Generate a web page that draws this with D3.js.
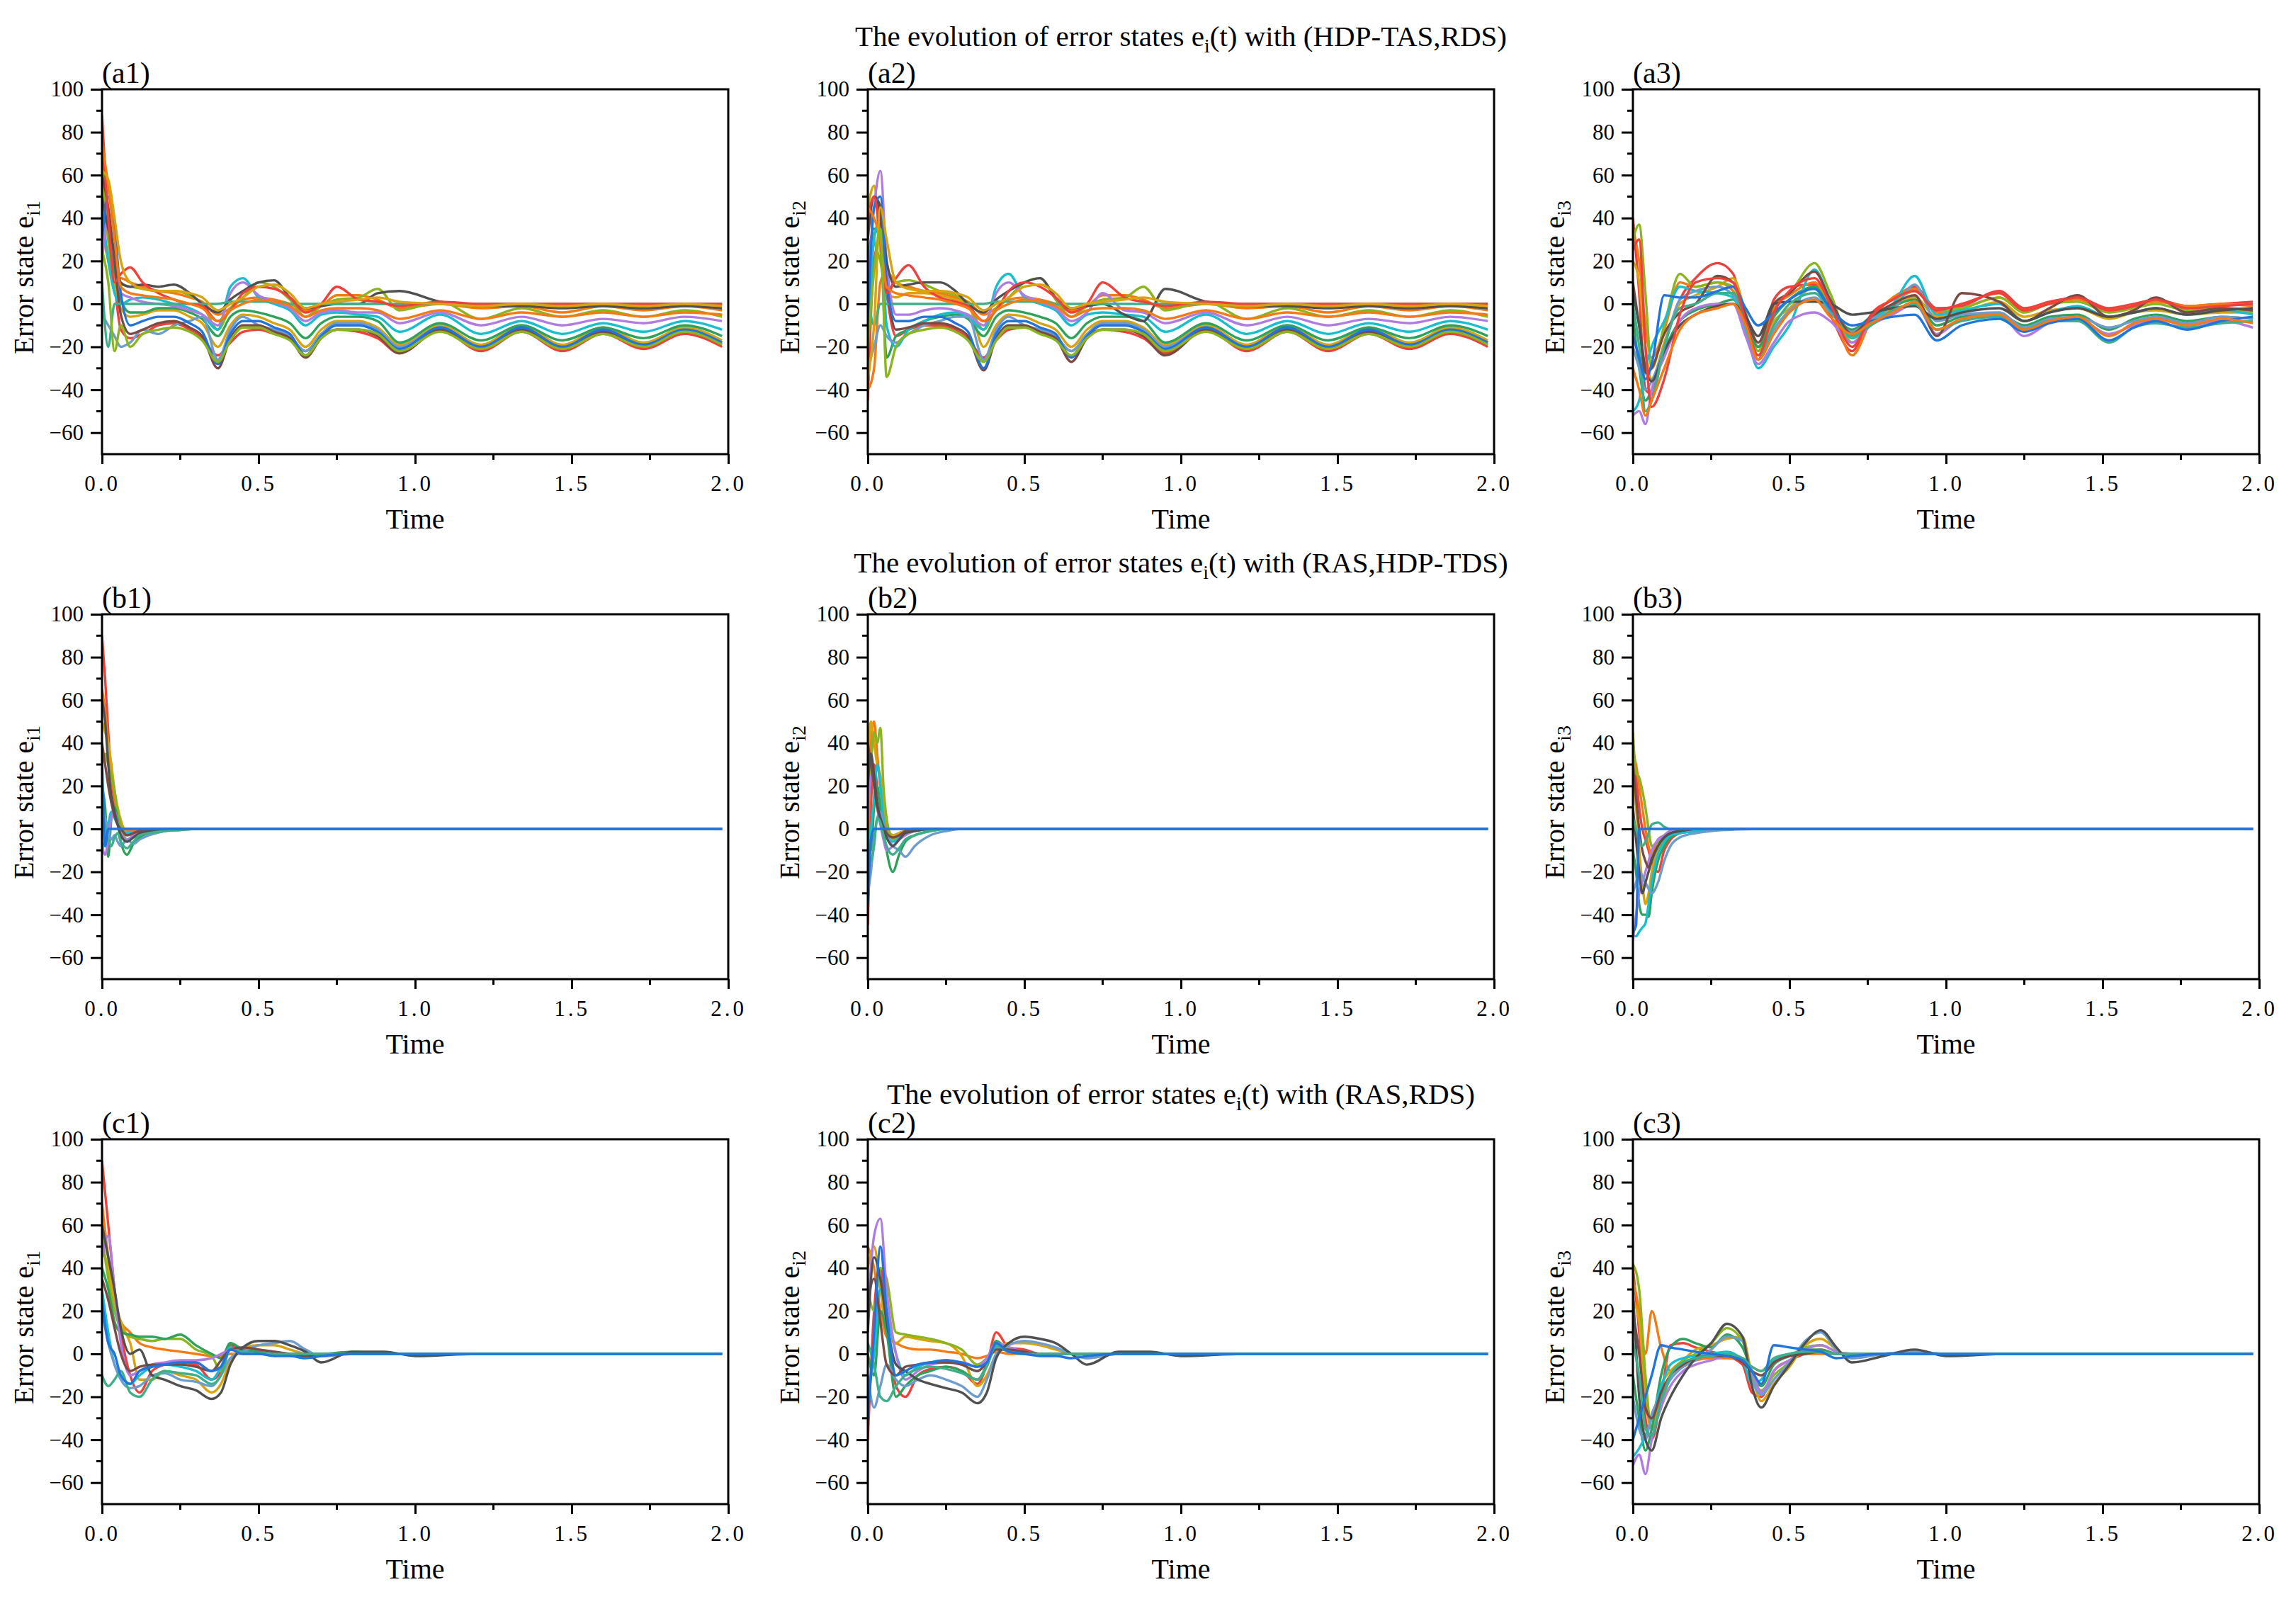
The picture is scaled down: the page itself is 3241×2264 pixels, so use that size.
<!DOCTYPE html>
<html>
<head>
<meta charset="utf-8">
<script src="https://cdn.jsdelivr.net/npm/d3@7"></script>
<style>
	body { margin: 0; background: #fff; }
	text { font-family: "Liberation Serif", "Times New Roman", serif; fill: #000; }
</style>
</head>
<body>
<script>
// time grids (s)
var tA = [0, 0.02, 0.04, 0.06, 0.09, 0.13, 0.18, 0.23, 0.28, 0.32, 0.37, 0.41, 0.45, 0.5, 0.55, 0.6, 0.65, 0.7, 0.75, 0.82, 0.88, 0.95, 1.08, 1.21, 1.34, 1.47, 1.6, 1.73, 1.86, 1.98];
var tA3 = [0, 0.02, 0.04, 0.06, 0.1, 0.15, 0.2, 0.27, 0.32, 0.36, 0.4, 0.45, 0.5, 0.58, 0.63, 0.7, 0.76, 0.83, 0.9, 0.97, 1.05, 1.17, 1.25, 1.33, 1.42, 1.52, 1.6, 1.67, 1.77, 1.88, 1.98];
var tB = [0, 0.01, 0.02, 0.03, 0.04, 0.05, 0.06, 0.08, 0.1, 0.12, 0.15, 0.2, 0.25, 0.3, 0.4, 1.98];
var tC = [0, 0.02, 0.04, 0.06, 0.09, 0.12, 0.16, 0.2, 0.25, 0.3, 0.35, 0.38, 0.41, 0.45, 0.5, 0.55, 0.6, 0.65, 0.7, 0.8, 0.9, 1.0, 1.2, 1.5, 1.98];

// series order: red, orange, gold, olive, green, cyan, purple, steel, brown, gray, teal, blue, then again
var a1 = [
	[70, 40, 10, -12, -16, -14, -10, -9, -12, -16, -24, -18, -13, -12, -14, -16, -22, -15, -12, -13, -16, -23, -12, -22, -13, -22, -14, -21, -14, -20],
	[35, 20, 10, 12, 10, 8, 6, 5, 3, 1, -5, -2, 2, 3, 2, 0, -3, -1, 4, 4, 2, -2, 0, -2, -1, -4, -1, -3, -1, -3],
	[55, 30, 10, -2, -6, -5, -3, -3, -6, -9, -20, -10, -5, -6, -9, -12, -20, -12, -8, -8, -11, -19, -10, -19, -10, -19, -11, -18, -11, -17],
	[65, 30, 8, 9, 8, 7, 6, 6, 4, 0, -12, -2, 3, 10, 8, 2, -6, -1, 2, 3, 7, -3, 1, -7, -2, -6, -3, -6, -3, -6],
	[40, 35, 15, 2, -4, -4, -2, -2, -4, -7, -15, -6, -3, -4, -6, -9, -16, -9, -6, -6, -8, -18, -9, -17, -10, -17, -11, -16, -10, -15],
	[45, 20, 5, 0, 2, 3, 2, 0, -2, -5, -12, 8, 12, 3, 0, -3, -10, -5, -4, -5, -6, -13, -5, -14, -8, -14, -9, -13, -8, -12],
	[20, 40, 20, 5, 3, 1, 0, -1, -3, -5, -10, 5, 10, 4, 1, -2, -8, -4, -3, -4, -4, -9, -4, -10, -6, -10, -7, -9, -6, -8],
	[-5, -10, -15, -20, -18, -12, -14, -10, -8, -6, -26, -12, -6, -10, -12, -15, -22, -14, -9, -9, -12, -20, -11, -20, -12, -20, -13, -19, -13, -18],
	[60, 45, 20, -5, -14, -12, -9, -8, -11, -15, -30, -16, -10, -10, -13, -16, -25, -16, -12, -12, -15, -23, -12, -21, -12, -21, -13, -20, -13, -19],
	[50, 35, 25, 10, 8, 9, 8, 9, 5, 0, -4, 2, 6, 10, 11, 3, -2, -1, 0, 0, 5, 6, 1, -1, -1, -2, -1, -2, -1, -2],
	[10, -20, 0, 0, 0, 0, 0, 0, 0, 0, 0, 1, 1, 1, 1, 0, 0, 0, 0, 0, 0, 0, 0, 0, 0, 0, 0, 0, 0, 0],
	[30, 50, 35, 5, -10, -8, -6, -6, -9, -13, -28, -14, -8, -8, -11, -14, -24, -15, -10, -10, -13, -21, -11, -20, -11, -20, -12, -19, -12, -18],
	[88, 40, 10, 14, 17, 10, 5, 2, 0, -1, -8, -3, 5, 8, 7, 3, -4, 0, 8, 2, 1, -1, 1, 0, 0, 0, 0, 0, 0, 0],
	[75, 55, 30, 8, 5, 4, 3, 2, 0, -2, -8, -3, 0, 2, 1, -1, -6, -3, -2, -2, -3, -7, -3, -7, -4, -6, -4, -6, -4, -5],
	[62, 58, 40, 20, 10, 7, 6, 6, 5, 3, -3, 0, 3, 8, 9, 5, -2, 0, 1, 2, 3, 1, 0, -1, 0, -1, 0, -1, 0, -1],
	[25, 10, -22, -10, -20, -14, -12, -11, -13, -17, -27, -17, -11, -11, -14, -17, -24, -16, -12, -12, -14, -22, -13, -21, -13, -21, -14, -20, -13, -19]
];
var a2 = [
	[-45, 20, 30, 5, -15, -12, -10, -10, -12, -16, -25, -17, -12, -11, -13, -16, -22, -15, -12, -13, -16, -23, -12, -22, -13, -22, -14, -21, -14, -20],
	[-40, -30, 10, 15, 10, 8, 6, 5, 3, 1, -5, -2, 2, 3, 2, 0, -3, -1, 4, 4, 2, -2, 0, -2, -1, -4, -1, -3, -1, -3],
	[45, 55, 25, 5, 3, 5, 5, 4, 2, 0, -20, -10, -5, -6, -9, -12, -20, -12, -8, -8, -11, -19, -10, -19, -10, -19, -11, -18, -11, -17],
	[50, 30, 20, 5, 10, 11, 9, 6, 4, 0, -12, -2, 3, 10, 12, 2, -6, -1, 2, 3, 8, -3, 1, -7, -2, -6, -3, -6, -3, -6],
	[20, 35, 30, -25, -15, -12, -8, -6, -5, -7, -15, -6, -3, -4, -6, -9, -16, -9, -6, -6, -8, -18, -9, -17, -10, -17, -11, -16, -10, -15],
	[-20, 30, 40, -10, -20, -12, -8, -5, -4, -6, -12, 8, 14, 3, 0, -3, -10, -5, -4, -5, -6, -13, -5, -14, -8, -14, -9, -13, -8, -12],
	[10, 45, 62, 20, -5, -5, -3, -2, -3, -5, -10, 5, 10, 4, 1, -2, -8, -4, 5, -3, -4, -9, -4, -10, -6, -10, -7, -9, -6, -8],
	[-30, -20, -10, -15, -18, -14, -10, -8, -6, -6, -26, -12, -6, -10, -12, -15, -22, -14, -9, -9, -12, -20, -11, -20, -12, -20, -13, -19, -13, -18],
	[30, 50, 40, 10, -12, -11, -9, -9, -11, -15, -31, -16, -10, -10, -13, -16, -27, -16, -12, -12, -15, -24, -12, -21, -12, -21, -13, -20, -13, -19],
	[35, 50, 45, 20, 8, 9, 10, 10, 6, 0, -4, 2, 6, 10, 12, 3, -2, -1, 0, -5, -8, 7, 1, -1, -1, -2, -1, -2, -1, -2],
	[5, -10, 0, 0, 0, 0, 0, 0, 0, 0, 0, 1, 1, 1, 1, 0, 0, 0, 0, 0, 0, 0, 0, 0, 0, 0, 0, 0, 0, 0],
	[-10, 45, 50, 10, -8, -8, -6, -6, -9, -13, -30, -14, -8, -8, -11, -14, -25, -15, -10, -10, -13, -21, -11, -20, -11, -20, -12, -19, -12, -18],
	[40, 50, 30, 5, 12, 18, 8, 3, 1, -1, -8, -3, 6, 10, 8, 3, -4, 0, 10, 3, 1, -1, 1, 0, 0, 0, 0, 0, 0, 0],
	[45, 40, 30, 8, 5, 4, 3, 2, 0, -2, -8, -3, 0, 2, 1, -1, -6, -3, -2, -2, -3, -7, -3, -7, -4, -6, -4, -6, -4, -5],
	[-35, -10, 45, 30, 10, 7, 6, 6, 5, 3, -3, 0, 3, 8, 9, 5, -2, 0, 1, 2, 3, 1, 0, -1, 0, -1, 0, -1, 0, -1],
	[-20, 15, 35, -34, -20, -14, -12, -11, -13, -17, -27, -17, -11, -11, -14, -17, -24, -16, -12, -12, -14, -22, -13, -21, -13, -21, -14, -20, -13, -19]
];
var a3 = [
	[40, 5, -40, -42, -20, 2, 12, 19, 14, -10, -26, 2, 8, 9, -5, -22, -5, 2, 8, -2, -1, 6, -2, 1, 3, -2, 0, 2, -1, 0, 1],
	[35, 20, -10, -25, -12, 10, 8, 10, 6, -6, -20, -2, 4, 10, 0, -24, -8, 3, 7, -4, -2, 3, -3, 0, 2, -3, -1, 1, -1, 0, -1],
	[20, 10, -20, -35, -18, 0, 4, 8, 12, -4, -20, -8, -2, 8, 0, -16, -9, -2, 3, -6, -4, 1, -6, -3, -2, -7, -4, -3, -5, -4, -4],
	[30, 37, 5, -30, -10, 14, 8, 10, 8, -5, -22, 0, 5, 19, 5, -18, -8, 0, 6, -3, -2, 3, -4, 0, 1, -4, -2, 0, -3, -2, -4],
	[-5, -30, -45, -40, -22, -8, -3, 0, 2, -8, -20, -6, 2, 8, -2, -12, -6, -1, 2, -10, -6, -5, -10, -6, -5, -12, -7, -5, -8, -6, -7],
	[-50, -45, -30, -20, -8, 8, 6, 5, 3, -12, -30, -20, -10, 16, 2, -16, -8, 0, 13, -5, -3, 0, -8, -4, -1, -6, -4, -2, -5, -3, -5],
	[-52, -50, -56, -40, -25, -8, -2, 0, 0, -15, -28, -18, -8, -4, -8, -18, -10, -5, 0, -14, -7, -5, -15, -9, -7, -14, -10, -7, -10, -8, -11],
	[-20, -30, -40, -36, -20, 2, 6, 8, 4, -8, -26, -12, -3, 3, -4, -13, -7, -3, 9, -8, -5, -4, -11, -7, -6, -11, -8, -6, -9, -6, -7],
	[10, -10, -32, -30, -14, -4, 0, 13, 10, -5, -18, 0, 5, 15, 2, -14, -6, 0, 4, -15, 5, 1, -8, -2, 4, -6, -3, 3, -4, -2, -3],
	[5, -10, -30, -36, -22, -10, -5, -1, 0, -6, -15, 0, 1, 1, 0, -5, -4, -2, -1, -7, -4, -2, -8, -4, -2, -6, -4, -2, -5, -3, -2],
	[0, -20, -50, -45, -20, -2, 0, 5, 5, -8, -24, -10, 0, 5, -3, -15, -10, -3, 0, -12, -8, -6, -12, -8, -8, -18, -11, -9, -11, -9, -8],
	[-15, -25, -35, -28, 4, 3, 3, 6, 8, -2, -10, -4, 2, 7, -2, -10, -8, -6, -5, -17, -10, -7, -13, -9, -7, -17, -11, -8, -12, -8, -6],
	[25, 30, -20, -48, -35, -5, 10, 12, 10, -8, -24, -4, 6, 12, 0, -20, -6, 2, 6, -3, 0, 5, -3, 0, 3, -3, -1, 2, -2, -1, 0],
	[-30, -40, -52, -45, -30, -12, -5, -2, 0, -10, -26, -14, -4, 2, -6, -14, -9, -4, 1, -12, -7, -5, -12, -8, -6, -15, -9, -7, -10, -7, -9]
];
var b1 = [
	[90, 70, 45, 25, 12, 5, 1, 0, 0, 0, 0, 0, 0, 0, 0, 0],
	[65, 55, 40, 25, 15, 6, 2, -1, -1, 0, 0, 0, 0, 0, 0, 0],
	[50, 45, 40, 30, 18, 10, 4, -2, -3, -2, -1, 0, 0, 0, 0, 0],
	[30, 35, 30, 25, 18, 8, 2, -5, -4, -3, -2, -1, 0, 0, 0, 0],
	[20, 10, -13, 5, 10, 4, -6, -12, -7, -4, -2, -1, -0.5, 0, 0, 0],
	[-10, -5, 2, 8, 5, 2, 0, -2, -2, -1, -1, 0, 0, 0, 0, 0],
	[-8, -12, -5, 5, 8, 3, -2, -5, -3, -2, -1, 0, 0, 0, 0, 0],
	[10, 5, 0, -5, -3, -6, -8, -5, -7, -5, -3, -1, 0, 0, 0, 0],
	[40, 30, 20, 12, 6, 2, 0, -3, -2, -1, 0, 0, 0, 0, 0, 0],
	[60, 50, 30, 15, 8, 2, -3, -6, -4, -2, -1, 0, 0, 0, 0, 0],
	[5, 0, -5, -8, -4, -2, -6, -9, -6, -3, -2, -1, -0.5, 0, 0, 0],
	[35, -8, 0, 0, 0, 0, 0, 0, 0, 0, 0, 0, 0, 0, 0, 0]
];
var b2 = [
	[-45, 10, 30, 20, 10, 3, 0, -3, -2, -1, 0, 0, 0, 0, 0, 0],
	[-20, 40, 50, 35, 20, 8, 2, -4, -3, -1, 0, 0, 0, 0, 0, 0],
	[30, 50, 40, 30, 25, 12, 3, -3, -2, -1, 0, 0, 0, 0, 0, 0],
	[10, 30, 45, 40, 47, 20, 5, -5, -4, -2, -1, 0, 0, 0, 0, 0],
	[0, -10, 10, 20, 10, 0, -10, -20, -12, -6, -3, -1, 0, 0, 0, 0],
	[-10, 0, 15, 30, 20, 5, -2, -6, -4, -2, -1, 0, 0, 0, 0, 0],
	[5, 25, 20, 10, 2, -5, -10, -8, -5, -3, -1, 0, 0, 0, 0, 0],
	[-30, -20, -5, 5, 8, 2, -3, -8, -10, -13, -8, -3, -1, 0, 0, 0],
	[40, 30, 20, 10, 5, 1, -2, -4, -3, -1, 0, 0, 0, 0, 0, 0],
	[20, 35, 25, 12, 5, 0, -4, -8, -5, -2, -1, 0, 0, 0, 0, 0],
	[-5, -15, -8, 5, 3, -3, -8, -12, -9, -5, -3, -1, 0, 0, 0, 0],
	[-35, -5, 0, 0, 0, 0, 0, 0, 0, 0, 0, 0, 0, 0, 0, 0]
];
var b3 = [
	[40, 25, 10, 0, -5, -10, -15, -20, -10, -5, -2, -1, 0, 0, 0, 0],
	[35, 30, 20, 10, 0, -8, -12, -5, -3, -1, 0, 0, 0, 0, 0, 0],
	[20, 10, -10, -25, -35, -30, -20, -10, -5, -3, -1, 0, 0, 0, 0, 0],
	[45, 26, 24, 18, 10, 0, -8, -6, -3, -1, -1, 0, 0, 0, 0, 0],
	[-10, -20, -35, -40, -40, -41, -30, -15, -8, -4, -2, -1, 0, 0, 0, 0],
	[-50, -50, -48, -46, -44, -35, -25, -12, -6, -3, -2, -1, 0, 0, 0, 0],
	[-52, -40, -30, -25, -20, -15, -10, -5, -3, -1, 0, 0, 0, 0, 0, 0],
	[-30, -25, -20, -22, -25, -28, -30, -25, -15, -8, -4, -2, -1, -0.5, 0, 0],
	[30, 15, 0, -10, -15, -18, -14, -8, -4, -2, -1, 0, 0, 0, 0, 0],
	[10, -5, -20, -30, -25, -20, -15, -8, -4, -2, -1, 0, 0, 0, 0, 0],
	[5, 0, -5, -8, -6, -2, 2, 3, 1, 0, 0, 0, 0, 0, 0, 0],
	[-48, -45, 0, 0, 0, 0, 0, 0, 0, 0, 0, 0, 0, 0, 0, 0]
];
var c1 = [
	[90, 60, 30, 10, -10, -18, -8, -5, -4, -5, -12, -8, 4, 2, 1, 0, 0, 0, 0, 0, 0, 0, 0, 0, 0],
	[70, 45, 25, 15, 10, 5, 3, 2, 1, 0, -1, -1, 0, 0, 0, 0, 0, 0, 0, 0, 0, 0, 0, 0, 0],
	[50, 40, 25, 15, 5, -12, -12, -8, -10, -12, -18, -14, -3, 3, 4, 4, 2, 0, -1, 0, 0, 0, 0, 0, 0],
	[55, 35, 20, 12, 8, 7, 6, 7, 7, 2, -1, -8, 2, 1, 0, 0, 0, 0, 0, 0, 0, 0, 0, 0, 0],
	[40, 30, 15, 10, 9, 8, 8, 7, 9, 4, 0, -2, 5, 2, 1, 0, 0, 0, 0, 1, 0, 0, 0, 0, 0],
	[30, 10, -5, -10, -14, -10, -6, -5, -6, -8, -12, -6, 3, 1, 0, 0, 0, 0, 0, 0, 0, 0, 0, 0, 0],
	[45, 55, 30, 5, -10, -8, -5, -4, -3, -3, -2, 0, 2, 3, 2, 1, 0, 0, 0, 0, 0, 0, 0, 0, 0],
	[20, 5, -5, -12, -16, -15, -10, -9, -12, -13, -15, -10, -2, 1, 4, 5, 6, 2, -1, 0, 0, 0, 0, 0, 0],
	[35, 25, 12, 0, -8, -6, -5, -5, -5, -6, -8, -3, 2, 3, 2, 1, 0, -1, 0, 0, 0, 0, 0, 0, 0],
	[60, 45, 30, 12, 0, 2, -10, -12, -15, -17, -21, -18, -5, 3, 6, 6, 4, 1, -4, 1, 1, -1, 0, 0, 0],
	[-10, -15, -12, -8, -18, -20, -12, -8, -9, -10, -14, -10, 2, 1, 0, 0, 0, 0, 0, 0, 0, 0, 0, 0, 0],
	[25, 5, 0, -10, -14, -8, -6, -5, -4, -4, -8, -6, 2, 0, 0, -1, -1, -2, -1, 0, 0, 0, 0, 0, 0]
];
var c2 = [
	[-40, 20, 40, 15, -15, -20, -10, -7, -6, -8, -14, -5, 10, 3, 2, 0, 0, 0, 0, 0, 0, 0, 0, 0, 0],
	[50, 40, 20, 8, 5, 3, 2, 2, 1, 0, -2, -1, 1, 0, 0, 0, 0, 0, 0, 0, 0, 0, 0, 0, 0],
	[40, 50, 30, 10, 5, 8, 7, 6, 5, -1, -15, -10, 0, 5, 5, 4, 2, 0, -2, 0, 0, 0, 0, 0, 0],
	[30, 20, 40, 35, 10, 9, 8, 7, 5, 2, -5, -2, 4, 2, 1, 0, 0, 0, 0, 0, 0, 0, 0, 0, 0],
	[0, -10, 20, 10, -20, -15, -10, -8, -6, -8, -12, -5, 6, 2, 1, 0, 0, 0, 0, 0, 0, 0, 0, 0, 0],
	[-20, 0, 30, 20, 0, -10, -6, -4, -3, -5, -8, -4, 3, 1, 0, 0, 0, 0, 0, 0, 0, 0, 0, 0, 0],
	[20, 55, 63, 30, 0, -12, -8, -5, -4, -4, -6, -2, 5, 3, 1, 0, 0, 0, 0, 0, 0, 0, 0, 0, 0],
	[-10, -25, -15, -5, -12, -15, -12, -10, -12, -15, -20, -12, 0, 4, 6, 5, 3, 0, -2, 0, 0, 0, 0, 0, 0],
	[25, 35, 15, -5, -10, -6, -5, -4, -4, -5, -8, -4, 2, 2, 1, 0, 0, 0, 0, 0, 0, 0, 0, 0, 0],
	[10, 45, 35, 15, -5, -8, -12, -14, -16, -18, -23, -18, -2, 5, 8, 7, 5, 0, -5, 1, 1, -1, 0, 0, 0],
	[5, -5, -20, -22, -15, -10, -7, -6, -7, -9, -12, -6, 4, 1, 0, 0, 0, 0, 0, 0, 0, 0, 0, 0, 0],
	[-30, 10, 50, 20, -10, -8, -5, -4, -3, -4, -6, -4, 5, 1, 0, -1, -1, -2, -1, 0, 0, 0, 0, 0, 0]
];
var c3 = [
	[40, 10, -30, -40, -20, 4, 5, 3, 1, -1, -5, -18, -20, -8, -3, 0, 2, 0, 0, 0, 0, 0, 0, 0, 0],
	[35, 20, 0, 20, 3, -8, -6, -3, -2, -2, -3, -6, -8, -3, -1, 0, 0, 0, 0, 0, 0, 0, 0, 0, 0],
	[25, 15, -20, -35, -15, -8, -3, 2, 4, 7, 8, -10, -22, -14, -6, 4, 7, 2, -2, 0, 0, 0, 0, 0, 0],
	[42, 30, -10, -35, -25, -10, -3, 0, 5, 12, 6, -10, -17, -10, -4, 3, 4, 1, -1, 0, 1, 0, 0, 0, 0],
	[-10, -30, -45, -35, -10, 3, 7, 5, 3, 9, 3, -8, -15, -5, -1, 2, 2, 0, 0, 0, 0, 0, 0, 0, 0],
	[-48, -44, -38, -30, -15, -5, -2, -1, 0, 1, -3, -14, -12, -3, 0, 1, 1, 0, 0, 0, 0, 0, 0, 0, 0],
	[-52, -47, -56, -40, -25, -15, -8, -5, -3, -1, -2, -8, -18, -8, -3, 2, 4, 1, 0, 0, 0, 0, 0, 0, 0],
	[-20, -35, -40, -28, -20, -12, -6, -3, 2, 8, 6, -12, -19, -12, -4, 6, 10, 2, -2, 0, 1, 0, 0, 0, 0],
	[20, 0, -25, -30, -18, -10, -5, -2, -1, -1, -4, -8, -10, -4, -1, 0, 1, 0, 0, 0, 0, 0, 0, 0, 0],
	[30, -20, -40, -45, -30, -20, -10, -2, 5, 14, 8, -15, -25, -15, -5, 5, 11, 3, -4, -1, 2, -1, 0, 0, 0],
	[5, -10, -35, -38, -22, -10, -4, -2, -1, 0, -2, -6, -8, -2, 0, 1, 1, 0, 0, 0, 0, 0, 0, 0, 0],
	[-40, -30, -20, -10, 4, 3, 2, 1, 0, -1, -3, -8, -14, 4, 3, 2, 1, -2, -1, 0, 0, 0, 0, 0, 0]
];

var rowTitles = ["(HDP-TAS,RDS)", "(RAS,HDP-TDS)", "(RAS,RDS)"];
var panelLetters = ["a", "b", "c"];
var yTicks = [-60, -40, -20, 0, 20, 40, 60, 80, 100];
var yMinor = [-50, -30, -10, 10, 30, 50, 70, 90];
var xTicks = [0, 0.5, 1.0, 1.5, 2.0];
var xMinor = [0.25, 0.75, 1.25, 1.75];

var palette = ["#f0403c", "#f57a14", "#d9a30e", "#8ab51f", "#2ca25a", "#17becf",
	"#b07ce3", "#6d9ccf", "#7b4a45", "#505050", "#3cb08a", "#1f74e0"];

var panels = [
	[{ t: tA, s: a1 }, { t: tA, s: a2 }, { t: tA3, s: a3 }],
	[{ t: tB, s: b1 }, { t: tB, s: b2 }, { t: tB, s: b3 }],
	[{ t: tC, s: c1 }, { t: tC, s: c2 }, { t: tC, s: c3 }]
];

var W = 3241, H = 2264;
var colLeft = [144, 1225, 2305], rowTop = [126, 867, 1608];
var pw = 884, ph = 515;
var titleY = [65, 808, 1558];

var svg = d3.select("body").append("svg")
	.attr("width", W).attr("height", H)
	.attr("viewBox", "0 0 " + W + " " + H);
svg.append("rect").attr("width", W).attr("height", H).attr("fill", "#fff");

var x = d3.scaleLinear().domain([0, 2]).range([0, pw]);
var y = d3.scaleLinear().domain([-70, 100]).range([ph, 0]);

svg.append("defs").append("clipPath").attr("id", "plotclip")
	.append("rect").attr("x", 0).attr("y", 0).attr("width", pw).attr("height", ph);

rowTitles.forEach(function (tt, r) {
	var t = svg.append("text")
		.attr("x", colLeft[1] + pw / 2)
		.attr("y", titleY[r])
		.attr("text-anchor", "middle")
		.style("font-size", "41px");
	t.append("tspan").text("The evolution of error states e");
	t.append("tspan").attr("dy", 9).style("font-size", "28px").text("i");
	t.append("tspan").attr("dy", -9).text("(t) with " + tt);
});

panels.forEach(function (row, r) {
	row.forEach(function (p, c) {
		var g = svg.append("g")
			.attr("transform", "translate(" + colLeft[c] + "," + rowTop[r] + ")");

		var line = d3.line()
			.x(function (d, i) { return x(p.t[i]); })
			.y(function (d) { return y(d); })
			.curve(d3.curveMonotoneX);

		g.append("g").attr("clip-path", "url(#plotclip)")
			.selectAll("path")
			.data(p.s)
			.enter().append("path")
			.attr("d", line)
			.attr("fill", "none")
			.attr("stroke", function (d, i) { return palette[i % palette.length]; })
			.attr("stroke-width", 3.4)
			.attr("stroke-linejoin", "round");

		// frame
		g.append("rect")
			.attr("width", pw).attr("height", ph)
			.attr("fill", "none").attr("stroke", "#000").attr("stroke-width", 3);

		// y axis
		var ya = g.append("g")
			.call(d3.axisLeft(y).tickValues(yTicks).tickSize(16).tickPadding(10)
				.tickFormat(function (d) { return d < 0 ? "\u2212" + (-d) : d; }));
		ya.attr("font-family", null).attr("font-size", null);
		ya.select(".domain").remove();
		ya.selectAll(".tick line").attr("stroke-width", 3);
		ya.selectAll(".tick text").style("font-size", "31px")
			.style("font-family", "'Liberation Serif', serif");
		g.append("g").selectAll("line").data(yMinor).enter().append("line")
			.attr("x1", -8).attr("x2", 0)
			.attr("y1", function (d) { return y(d); }).attr("y2", function (d) { return y(d); })
			.attr("stroke", "#000").attr("stroke-width", 3);

		// x axis
		var xa = g.append("g").attr("transform", "translate(0," + ph + ")")
			.call(d3.axisBottom(x).tickValues(xTicks).tickSize(14).tickPadding(16)
				.tickFormat(d3.format(".1f")));
		xa.attr("font-family", null).attr("font-size", null);
		xa.select(".domain").remove();
		xa.selectAll(".tick line").attr("stroke-width", 3);
		xa.selectAll(".tick text").style("font-size", "31px").style("letter-spacing", "4px")
			.style("font-family", "'Liberation Serif', serif");
		g.append("g").selectAll("line").data(xMinor).enter().append("line")
			.attr("x1", function (d) { return x(d); }).attr("x2", function (d) { return x(d); })
			.attr("y1", ph).attr("y2", ph + 8)
			.attr("stroke", "#000").attr("stroke-width", 3);

		g.append("text")
			.attr("x", pw / 2).attr("y", ph + 105)
			.attr("text-anchor", "middle")
			.style("font-size", "40px")
			.text("Time");

		var yl = g.append("text")
			.attr("transform", "translate(-97," + (ph / 2 + 8) + ") rotate(-90)")
			.attr("text-anchor", "middle")
			.style("font-size", "40px");
		yl.append("tspan").text("Error state e");
		yl.append("tspan").attr("dy", 9).style("font-size", "28px").text("i" + (c + 1));

		g.append("text")
			.attr("x", 0).attr("y", -9)
			.style("font-size", "42px")
			.text("(" + panelLetters[r] + (c + 1) + ")");
	});
});
</script>
</body>
</html>
